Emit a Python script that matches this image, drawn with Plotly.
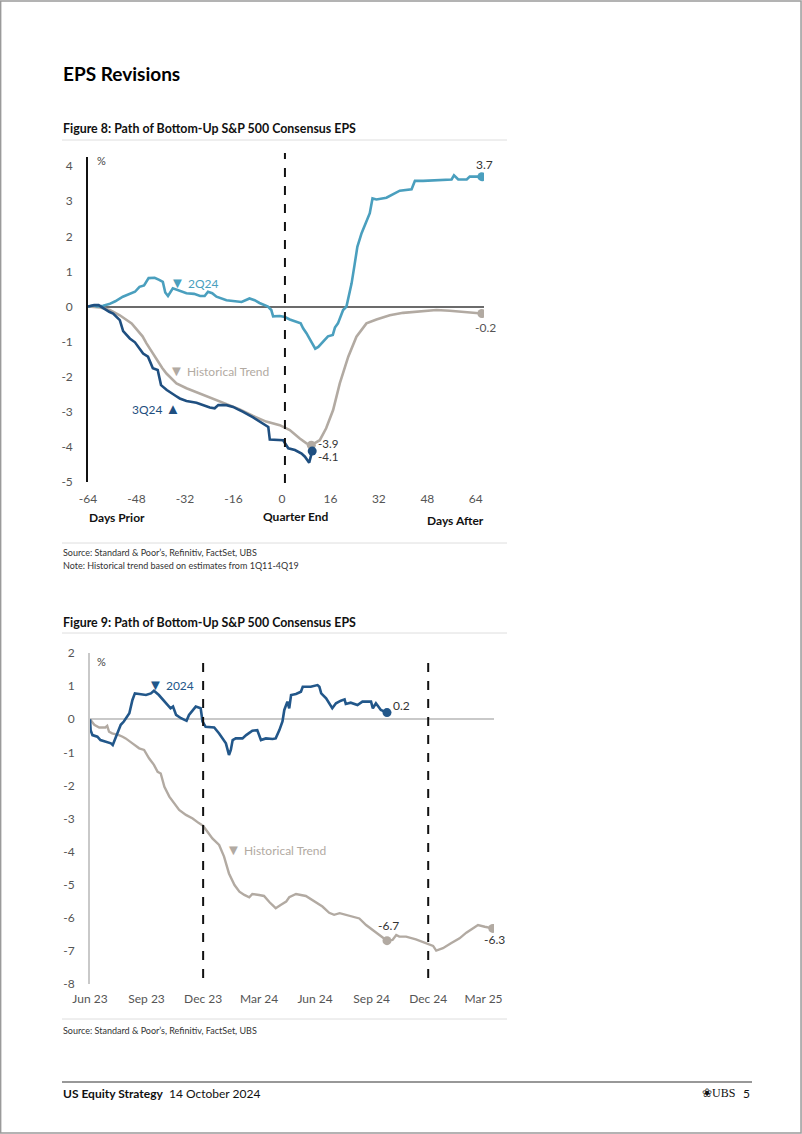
import plotly.graph_objects as go
import pandas as pd

W, H = 802, 1134

# ---------------- Figure 8 data (days relative to quarter end, % revision) ----------------
q2_days = [-64, -62, -61, -59, -57, -55, -52.5, -50, -48.5, -47, -45.5, -44, -42, -40.5, -39.3, -38.5,
           -37.6, -36, -34, -31.5, -29, -27, -25.5, -24.4, -23, -21.6, -18.3, -15, -13.3, -10.7, -9,
           -7.4, -4.6, -3.5, -2.9, -0.7, 1, 2.6, 4, 6.2, 7, 8.1, 10, 11, 12, 13.6, 15.2, 16.8, 17.5,
           18.5, 20.2, 21.3, 23, 24, 24.9, 26.3, 28, 29, 29.9, 31.2, 34.5, 36.2, 38.9, 42.8, 43.9,
           46.6, 50, 56, 56.8, 58.2, 61, 62, 66]
q2_vals = [0, 0.03, 0.0, 0.02, 0.07, 0.15, 0.28, 0.38, 0.42, 0.56, 0.6, 0.81, 0.82, 0.76, 0.7, 0.4,
           0.3, 0.52, 0.46, 0.38, 0.36, 0.3, 0.3, 0.42, 0.38, 0.28, 0.18, 0.16, 0.13, 0.23, 0.18,
           0.1, 0.0, -0.1, -0.28, -0.27, -0.3, -0.37, -0.42, -0.48, -0.62, -0.76, -1.05, -1.2, -1.15,
           -1.0, -0.85, -0.81, -0.6, -0.48, -0.1, 0.0, 0.66, 1.2, 1.7, 2.09, 2.46, 2.66, 3.08, 3.05,
           3.1, 3.17, 3.3, 3.34, 3.58, 3.58, 3.6, 3.62, 3.74, 3.62, 3.62, 3.7, 3.7]

q3_days = [-64, -62, -60.5, -59, -57, -55.7, -53.5, -52.4, -51, -50.2, -48.5, -47.4, -45.8, -44.2,
           -42.6, -41, -39.9, -38, -36.4, -35, -33.7, -31.5, -28.2, -26, -23.8, -22.2, -21, -18.3,
           -16.1, -14.5, -12.8, -9.5, -6.2, -4.5, -4, -0.7, 0.4, 2.1, 4.3, 6.5, 7.6, 9, 10]
q3_vals = [0, 0.04, 0.04, -0.05, -0.15, -0.2, -0.39, -0.7, -0.85, -0.91, -1.02, -1.15, -1.34, -1.43,
           -1.76, -1.81, -2.24, -2.38, -2.48, -2.55, -2.62, -2.69, -2.74, -2.81, -2.88, -2.9, -2.81,
           -2.81, -2.86, -2.93, -3.0, -3.16, -3.33, -3.43, -3.79, -3.79, -3.81, -4.04, -4.09, -4.19,
           -4.28, -4.45, -4.12]

hist8_days = [-64, -60, -56.8, -53.5, -49.6, -47.9, -46, -44.7, -43, -41.4, -39.5, -38.1, -36.5,
              -34.8, -31.5, -27.1, -22.7, -18.3, -13.9, -9.5, -5.2, -0.7, 2.6, 5.9, 8.1, 9.7, 12.5,
              14.6, 16.9, 19.1, 21.9, 24.6, 27.9, 31.2, 35.6, 40, 45.5, 51, 55.4, 59.8, 66]
hist8_vals = [0, -0.03, -0.1, -0.25, -0.48, -0.67, -0.85, -1.05, -1.28, -1.53, -1.75, -1.91, -2.06,
              -2.19, -2.33, -2.48, -2.62, -2.76, -2.93, -3.12, -3.28, -3.38, -3.52, -3.76, -3.9,
              -3.95, -3.81, -3.47, -2.95, -2.19, -1.43, -0.86, -0.48, -0.37, -0.25, -0.18, -0.15,
              -0.1, -0.12, -0.15, -0.2]

fig8_xticks = [-64, -48, -32, -16, 0, 16, 32, 48, 64]
fig8_xlabels = ["-64", "-48", "-32", "-16", "0", "16", "32", "48", "64"]
fig8_yticks = [-5, -4, -3, -2, -1, 0, 1, 2, 3, 4]
fig8_ylabels = ["-5", "-4", "-3", "-2", "-1", "0", "1", "2", "3", "4"]

# ---------------- Figure 9 data (days after 30 Jun 2023, % revision) ----------------
base_date = pd.Timestamp("2023-06-30")
y24_days = [0, 1, 4, 12, 17, 25, 34, 37, 42, 50, 55, 64, 69, 73, 80, 91, 99, 104, 112, 123, 131, 135,
            140, 148, 157, 161, 167, 172, 180, 183, 188, 202, 210, 221, 226, 229, 232, 237, 248, 254,
            264, 272, 278, 286, 297, 302, 308, 313, 316, 321, 324, 327, 335, 343, 346, 359, 370, 373,
            376, 384, 394, 400, 408, 414, 416, 424, 435, 443, 457, 460, 465, 473, 483]
y24_vals = [0, -0.33, -0.48, -0.53, -0.63, -0.68, -0.73, -0.78, -0.53, -0.17, -0.07, 0.18, 0.58, 0.78,
            0.76, 0.73, 0.78, 0.86, 0.73, 0.48, 0.33, 0.38, 0.13, 0.03, -0.05, 0.13, 0.28, 0.38, 0.33,
            -0.07, -0.23, -0.25, -0.43, -0.73, -1.08, -0.93, -0.63, -0.58, -0.58, -0.48, -0.35, -0.33,
            -0.63, -0.58, -0.6, -0.58, -0.33, -0.07, 0.28, 0.53, 0.33, 0.73, 0.76, 0.83, 0.98, 0.98,
            1.03, 0.98, 0.78, 0.63, 0.33, 0.48, 0.56, 0.6, 0.46, 0.5, 0.43, 0.53, 0.53, 0.33, 0.48,
            0.28, 0.2]

hist9_days = [0, 7, 15, 25, 28, 31, 36, 42, 47, 53, 58, 69, 80, 88, 96, 104, 110, 115, 121, 129, 137,
              145, 156, 167, 177, 184, 191, 199, 210, 218, 226, 235, 243, 251, 259, 264, 275, 283, 292,
              302, 310, 319, 324, 335, 351, 362, 378, 389, 397, 406, 416, 427, 438, 449, 460, 471, 483,
              492, 498, 503, 514, 530, 547, 558, 563, 574, 587, 601, 612, 623, 631, 642, 655]
hist9_vals = [0, -0.17, -0.25, -0.25, -0.2, -0.38, -0.43, -0.45, -0.48, -0.53, -0.58, -0.73, -0.88,
              -0.93, -1.18, -1.38, -1.59, -1.64, -2.04, -2.34, -2.54, -2.74, -2.89, -3.0, -3.14, -3.22,
              -3.4, -3.6, -3.8, -4.15, -4.66, -5.01, -5.21, -5.31, -5.38, -5.28, -5.31, -5.34, -5.53,
              -5.71, -5.61, -5.51, -5.38, -5.28, -5.34, -5.46, -5.66, -5.85, -5.91, -5.86, -5.91,
              -5.97, -6.02, -6.22, -6.37, -6.52, -6.69, -6.67, -6.52, -6.57, -6.57, -6.65, -6.77,
              -6.85, -6.99, -6.92, -6.77, -6.62, -6.45, -6.32, -6.22, -6.27, -6.32]

fig9_tickvals = ["2023-06-30", "2023-09-30", "2023-12-31", "2024-03-31", "2024-06-30",
                 "2024-09-30", "2024-12-31", "2025-03-31"]
fig9_ticktext = ["Jun 23", "Sep 23", "Dec 23", "Mar 24", "Jun 24", "Sep 24", "Dec 24", "Mar 25"]
fig9_yticks = [-8, -7, -6, -5, -4, -3, -2, -1, 0, 1, 2]
fig9_ylabels = ["-8", "-7", "-6", "-5", "-4", "-3", "-2", "-1", "0", "1", "2"]
year_ends = ["2023-12-31", "2024-12-31"]

y24_dates = [base_date + pd.Timedelta(days=d) for d in y24_days]
hist9_dates = [base_date + pd.Timedelta(days=d) for d in hist9_days]

# ---------------- colours ----------------
C_Q2 = "#4a9fbe"
C_Q3 = "#1f4f80"
C_HIST = "#b2aaa2"
C_Y24 = "#22578a"
FONT = "Lato"


def px(x):
    return x / W


def py(y):
    return 1 - y / H


fig = go.Figure()

# Figure 8 traces
fig.add_trace(go.Scatter(x=hist8_days, y=hist8_vals, mode="lines", line=dict(color=C_HIST, width=2.6),
                         xaxis="x", yaxis="y", showlegend=False))
fig.add_trace(go.Scatter(x=q2_days, y=q2_vals, mode="lines", line=dict(color=C_Q2, width=2.6),
                         xaxis="x", yaxis="y", showlegend=False))
fig.add_trace(go.Scatter(x=q3_days, y=q3_vals, mode="lines", line=dict(color=C_Q3, width=2.6),
                         xaxis="x", yaxis="y", showlegend=False))
fig.add_trace(go.Scatter(x=[hist8_days[25], hist8_days[-1]], y=[hist8_vals[25], hist8_vals[-1]],
                         mode="markers", marker=dict(color=C_HIST, size=9), xaxis="x", yaxis="y",
                         showlegend=False))
fig.add_trace(go.Scatter(x=[q2_days[-1]], y=[q2_vals[-1]], mode="markers",
                         marker=dict(color=C_Q2, size=9), xaxis="x", yaxis="y", showlegend=False))
fig.add_trace(go.Scatter(x=[q3_days[-1]], y=[q3_vals[-1]], mode="markers",
                         marker=dict(color=C_Q3, size=9), xaxis="x", yaxis="y", showlegend=False))

# Figure 9 traces
fig.add_trace(go.Scatter(x=hist9_dates, y=hist9_vals, mode="lines", line=dict(color=C_HIST, width=2.4),
                         xaxis="x2", yaxis="y2", showlegend=False))
fig.add_trace(go.Scatter(x=y24_dates, y=y24_vals, mode="lines", line=dict(color=C_Y24, width=2.6),
                         xaxis="x2", yaxis="y2", showlegend=False))
idx_h = hist9_days.index(y24_days[-1])
fig.add_trace(go.Scatter(x=[hist9_dates[idx_h], hist9_dates[-1]], y=[hist9_vals[idx_h], hist9_vals[-1]],
                         mode="markers", marker=dict(color=C_HIST, size=9), xaxis="x2", yaxis="y2",
                         showlegend=False))
fig.add_trace(go.Scatter(x=[y24_dates[-1]], y=[y24_vals[-1]], mode="markers",
                         marker=dict(color=C_Y24, size=9), xaxis="x2", yaxis="y2", showlegend=False))

tickfont = dict(family=FONT, size=12, color="#555555")

fig.update_layout(
    width=W, height=H, margin=dict(l=0, r=0, t=0, b=0, pad=0, autoexpand=False),
    paper_bgcolor="white", plot_bgcolor="white",
    xaxis=dict(domain=[px(88), px(484)], range=[-64, 66.7], tickvals=fig8_xticks, ticktext=fig8_xlabels,
               showgrid=False, zeroline=False, showline=False, ticks="", tickfont=tickfont,
               ticklabelstandoff=8, automargin=False, anchor="y"),
    yaxis=dict(domain=[py(482), py(157)], range=[-5, 4.26], tickvals=fig8_yticks, ticktext=fig8_ylabels,
               showgrid=False, zeroline=True, zerolinecolor="#6b6b6b", zerolinewidth=1.6,
               showline=True, linecolor="#111111", linewidth=1.6, ticks="", tickfont=tickfont,
               ticklabelstandoff=11, automargin=False, anchor="x"),
    xaxis2=dict(domain=[px(90), px(494)], type="date", range=["2023-06-30", "2025-04-17"],
                tickvals=fig9_tickvals, ticktext=fig9_ticktext, showgrid=False, zeroline=False,
                showline=False, ticks="", tickfont=tickfont, ticklabelstandoff=6, automargin=False,
                anchor="y2"),
    yaxis2=dict(domain=[py(984), py(653)], range=[-8, 2], tickvals=fig9_yticks, ticktext=fig9_ylabels,
                showgrid=False, zeroline=True, zerolinecolor="#c9c9c9", zerolinewidth=2,
                showline=True, linecolor="#c9c9c9", linewidth=2, ticks="", tickfont=tickfont,
                ticklabelstandoff=11, automargin=False, anchor="x2"),
)

shapes = []
shapes.append(dict(type="line", xref="x", yref="paper", x0=1, x1=1, y0=py(483), y1=py(153),
                   line=dict(color="#111111", width=2, dash="dash")))
for d in year_ends:
    shapes.append(dict(type="line", xref="x2", yref="paper", x0=d, x1=d, y0=py(978), y1=py(660),
                       line=dict(color="#111111", width=2, dash="dash")))
for yy in [140, 543, 633, 1019]:
    shapes.append(dict(type="line", xref="paper", yref="paper", x0=px(62), x1=px(507), y0=py(yy),
                       y1=py(yy), line=dict(color="#dedede", width=1)))
shapes.append(dict(type="line", xref="paper", yref="paper", x0=px(62), x1=px(752), y0=py(1082),
                   y1=py(1082), line=dict(color="#333333", width=1.2)))
shapes.append(dict(type="rect", xref="paper", yref="paper", x0=0.0008, x1=0.9988, y0=0.0008, y1=0.9992,
                   line=dict(color="#9a9a9a", width=1.5)))
fig.update_layout(shapes=shapes)

anns = []


def A(text, x, y, size=12, color="#333333", anchor="left", bold=False, family=FONT):
    if bold:
        text = "<b>" + text + "</b>"
    anns.append(dict(text=text, x=px(x), y=py(y), xref="paper", yref="paper", showarrow=False,
                     xanchor=anchor, yanchor="middle", font=dict(family=family, size=size, color=color)))


TRI_DN = "<span style='font-size:15px'>▼</span>"
TRI_UP = "<span style='font-size:15px'>▲</span>"

A("EPS Revisions", 61, 74, size=19, color="#000000", bold=True)
A("Figure 8: Path of Bottom-Up S&P 500 Consensus EPS", 61, 129, size=12.4, color="#111111", bold=True)
A("Figure 9: Path of Bottom-Up S&P 500 Consensus EPS", 61, 622, size=12.4, color="#111111", bold=True)

# Figure 8 annotations
A("%", 95, 161, size=11, color="#444444")
A(TRI_DN + " 2Q24", 168, 282, size=12, color=C_Q2)
A(TRI_DN + " Historical Trend", 167, 370, size=12, color=C_HIST)
A("3Q24 " + TRI_UP, 182, 408, size=12, color=C_Q3, anchor="right")
A("3.7", 484, 165, size=12, color="#333333", anchor="center")
A("-0.2", 485, 327, size=12, color="#555555", anchor="center")
A("-3.9", 316, 443, size=11.5, color="#333333")
A("-4.1", 316, 457, size=11.5, color="#333333")
A("Days Prior", 87, 517, size=12, color="#111111", bold=True)
A("Quarter End", 295, 516, size=12, color="#111111", anchor="center", bold=True)
A("Days After", 486, 520, size=12, color="#111111", anchor="right", bold=True)

A("Source: Standard &amp; Poor’s, Refinitiv, FactSet, UBS", 61, 553, size=9, color="#333333")
A("Note: Historical trend based on estimates from 1Q11-4Q19", 61, 565, size=9, color="#333333")

# Figure 9 annotations
A("%", 95, 661, size=11, color="#444444")
A(TRI_DN + " 2024", 146, 684, size=12, color=C_Y24)
A(TRI_DN + " Historical Trend", 224, 849, size=12, color=C_HIST)
A("0.2", 391, 705, size=12, color="#333333")
A("-6.7", 388, 925, size=12, color="#333333", anchor="center")
A("-6.3", 494, 939, size=12, color="#333333", anchor="center")
A("Source: Standard &amp; Poor’s, Refinitiv, FactSet, UBS", 61, 1030, size=9, color="#333333")

# footer
A("<b>US Equity Strategy</b>  14 October 2024", 61, 1093, size=12, color="#111111")
A("❀UBS", 737, 1093, size=12, color="#111111", anchor="right", family="Liberation Serif")
A("5", 752, 1093, size=12, color="#111111", anchor="right")

fig.update_layout(annotations=anns)

fig.write_html("out.html", config={"displayModeBar": False},
               post_script="document.body.style.margin='0';")
